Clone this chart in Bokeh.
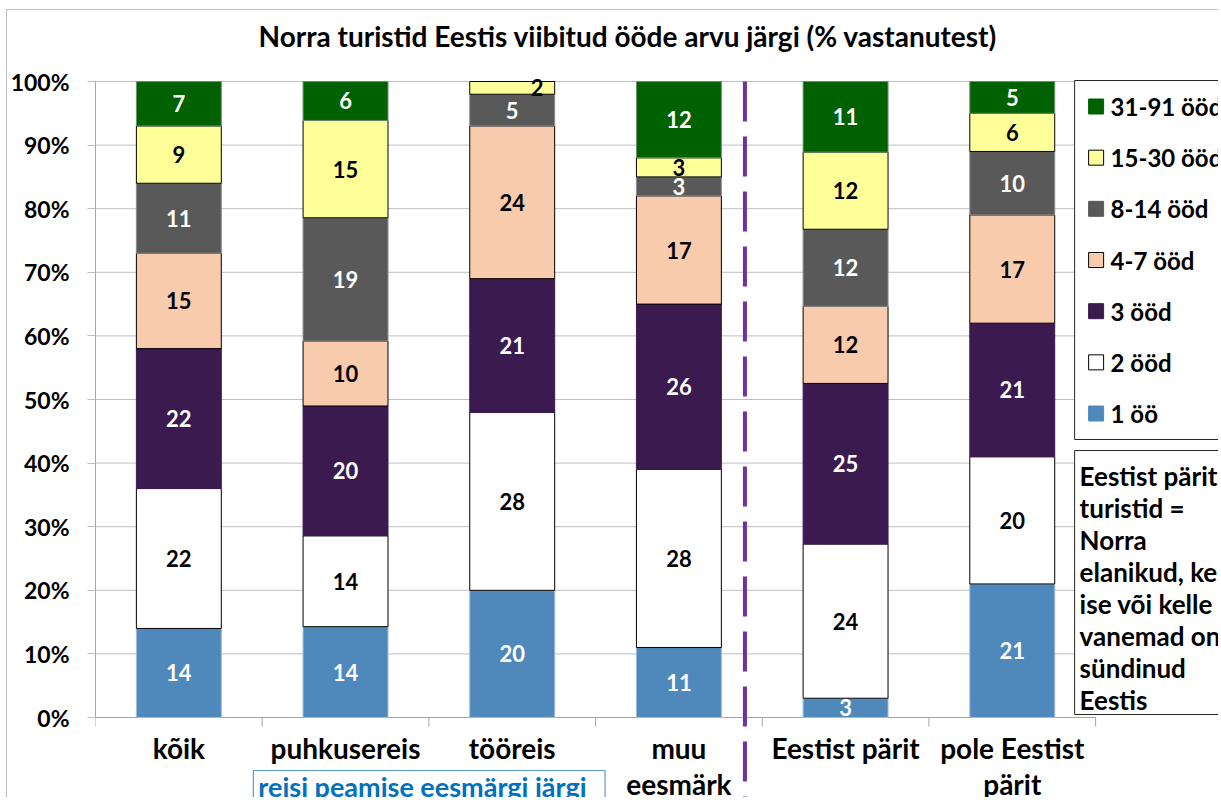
from bokeh.plotting import figure
from bokeh.models import ColumnDataSource, FixedTicker, PrintfTickFormatter
from bokeh.core.properties import value
from bokeh.embed import file_html
from bokeh.resources import INLINE

# ---------------- data ----------------
categories = ["kõik", "puhkusereis", "tööreis", "muu\neesmärk", "Eestist pärit", "pole Eestist\npärit"]
series = ["1 öö", "2 ööd", "3 ööd", "4-7 ööd", "8-14 ööd", "15-30 ööd", "31-91 ööd"]
one_night = [14, 14, 20, 11, 3, 21]
two_nights = [22, 14, 28, 28, 24, 20]
three_nights = [22, 20, 21, 26, 25, 21]
nights_4_7 = [15, 10, 24, 17, 12, 17]
nights_8_14 = [11, 19, 5, 3, 12, 10]
nights_15_30 = [9, 15, 2, 3, 12, 6]
nights_31_91 = [7, 6, 0, 12, 11, 5]
y_ticks = [0, 10, 20, 30, 40, 50, 60, 70, 80, 90, 100]
title_text = "Norra turistid Eestis viibitud ööde arvu järgi (% vastanutest)"
group_note = "reisi peamise eesmärgi järgi"
note_lines = ["Eestist pärit", "turistid =", "Norra", "elanikud, kes", "ise või kelle", "vanemad on", "sündinud", "Eestis"]

values = [one_night, two_nights, three_nights, nights_4_7, nights_8_14, nights_15_30, nights_31_91]
fill_colors = ["#4F88BB", "#FFFFFF", "#3B1A50", "#F8CBAD", "#595959", "#FFFF99", "#006100"]
line_colors = ["#9DBBDA", "#000000", "#3B1A50", "#000000", "#8C8C8C", "#000000", "#6E8F6E"]
text_colors = ["white", "black", "white", "black", "white", "black", "white"]

FONT = value("Lato")

# ---------------- pixel mapping (screen coords of reference) ----------------
CX0, CY0 = 8, 11          # canvas origin on screen
W, H = 1212, 788
FL, FR = 95, 1096         # category area left/right (screen)
Y0S, Y100S = 718, 82      # 0% and 100% screen y
UX = (FR - FL) / 6.0
UY = (Y0S - Y100S) / 100.0


def X(sx):
    return (sx - FL) / UX


def Y(sy):
    return (Y0S - sy) / UY


p = figure(width=W, height=H, x_range=(0, X(CX0 + W)), y_range=(Y(CY0 + H), Y(CY0)),
           x_axis_location=None, toolbar_location=None, output_backend="svg",
           min_border_left=FL - CX0, min_border_right=0, min_border_top=0, min_border_bottom=0)
p.outline_line_color = None
p.xgrid.visible = False
p.ygrid.visible = False
p.styles = {"margin-left": "6px", "margin-top": "9px",
            "border-left": "1px solid #BFBFBF", "border-top": "1px solid #BFBFBF"}

ax = p.yaxis[0]
ax.ticker = FixedTicker(ticks=y_ticks, minor_ticks=[])
ax.formatter = PrintfTickFormatter(format="%d%%")
ax.bounds = (0, 100)
ax.axis_line_color = "#A6A6A6"
ax.major_tick_line_color = "#BFBFBF"
ax.major_tick_out = 8
ax.major_tick_in = 0
ax.minor_tick_line_color = None
ax.major_label_standoff = 18
ax.major_label_text_font = "Lato"
ax.major_label_text_font_style = "bold"
ax.major_label_text_font_size = "23px"
ax.major_label_text_color = "black"

n = len(categories)
# gridlines
p.segment(x0=[0] * len(y_ticks), y0=y_ticks, x1=[n] * len(y_ticks), y1=y_ticks,
          line_color="#BFBFBF", line_width=1)
# x axis line and boundary ticks
p.segment(x0=[0], y0=[0], x1=[n], y1=[0], line_color="#A6A6A6", line_width=1)
bx = list(range(n + 1))
p.segment(x0=bx, y0=[0] * len(bx), x1=bx, y1=[Y(Y0S + 9)] * len(bx), line_color="#A6A6A6", line_width=1)

# ---------------- stacked bars ----------------
totals = [sum(v[i] for v in values) for i in range(n)]
xc = [i + 0.5 for i in range(n)]
bar_w = 85 / UX
cum = [0.0] * n
for k, vals in enumerate(values):
    bottoms = [cum[i] for i in range(n)]
    tops = [cum[i] + 100.0 * vals[i] / totals[i] for i in range(n)]
    cum = tops
    keep = [i for i in range(n) if vals[i] > 0]
    src = ColumnDataSource(dict(
        x=[xc[i] for i in keep],
        bottom=[bottoms[i] for i in keep],
        top=[tops[i] for i in keep],
        ly=[(bottoms[i] + tops[i]) / 2 for i in keep],
        lab=[str(vals[i]) for i in keep],
        xo=[25 if vals[i] <= 2 else 0 for i in keep],
    ))
    p.vbar(x="x", bottom="bottom", top="top", width=bar_w, source=src,
           fill_color=fill_colors[k], line_color=line_colors[k], line_width=1)
    p.text(x="x", y="ly", text="lab", x_offset="xo", source=src, text_align="center",
           text_baseline="middle", text_font=FONT, text_font_style="bold",
           text_font_size="22px", text_color=text_colors[k])

# ---------------- title ----------------
p.text(x=[X(628)], y=[Y(36)], text=[title_text], text_align="center", text_baseline="middle",
       text_font=FONT, text_font_style="bold", text_font_size="28px", text_color="black")

# ---------------- category labels ----------------
cx, cy, ct = [], [], []
for i, lab in enumerate(categories):
    for j, line in enumerate(lab.split("\n")):
        cx.append(xc[i])
        cy.append(Y(748 + 36 * j))
        ct.append(line)
p.text(x=cx, y=cy, text=ct, text_align="center", text_baseline="middle",
       text_font=FONT, text_font_style="bold", text_font_size="28px", text_color="black")

# group note box
p.quad(left=[X(253)], right=[X(605)], top=[Y(771)], bottom=[Y(810)],
       fill_color="white", line_color="#5B9BD5", line_width=1.2)
p.text(x=[X(258)], y=[Y(787)], text=[group_note], text_align="left", text_baseline="middle",
       text_font=FONT, text_font_style="bold", text_font_size="27px", text_color="#0070C0")

# dashed separator
p.segment(x0=[X(745)], y0=[Y(82)], x1=[X(745)], y1=[Y(810)], line_color="#7030A0",
          line_width=4, line_dash="40 15")

# ---------------- legend ----------------
p.quad(left=[X(1075)], right=[X(1260)], top=[Y(81)], bottom=[Y(440)],
       fill_color="white", line_color="#262626", line_width=1)
order = list(range(len(series)))[::-1]
ly = [Y(107 + 51.17 * r) for r in range(len(order))]
p.rect(x=[X(1096.5)] * len(order), y=ly, width=15, height=15, width_units="screen", height_units="screen",
       fill_color=[fill_colors[k] for k in order],
       line_color=[line_colors[k] if line_colors[k] == "#000000" else fill_colors[k] for k in order])
p.text(x=[X(1111)] * len(order), y=ly, text=[series[k] for k in order], text_align="left",
       text_baseline="middle", text_font=FONT, text_font_style="bold", text_font_size="24px",
       text_color="black")

# note box
p.quad(left=[X(1075)], right=[X(1260)], top=[Y(451)], bottom=[Y(715)],
       fill_color="white", line_color="#262626", line_width=1)
p.text(x=[X(1080)] * len(note_lines), y=[Y(476 + 32 * i) for i in range(len(note_lines))],
       text=note_lines, text_align="left", text_baseline="middle", text_font=FONT,
       text_font_style="bold", text_font_size="26px", text_color="black")

open("out.html", "w").write(file_html(p, INLINE))
